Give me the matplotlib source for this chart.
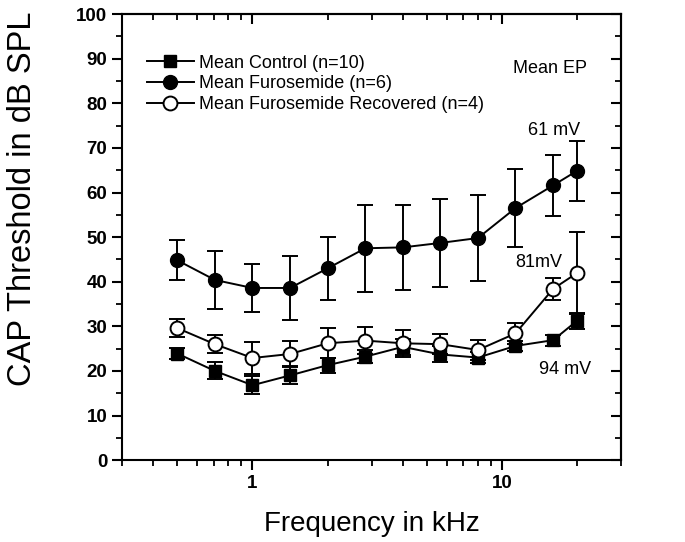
import matplotlib
matplotlib.use('Agg')
import matplotlib.pyplot as plt
from matplotlib.lines import Line2D
from matplotlib.ticker import FixedLocator, NullFormatter, MultipleLocator, LogLocator

plt.rcParams['font.family'] = ['Liberation Sans', 'DejaVu Sans']

# frecuencias en kHz
freq = [0.5, 0.707, 1.0, 1.414, 2.0, 2.83, 4.0, 5.66, 8.0, 11.3, 16.0, 20.0]

control = [23.9, 20.0, 16.8, 19.0, 21.3, 23.2, 25.4, 23.7, 23.0, 25.6, 26.9, 31.3]
control_err = [1.3, 1.9, 2.0, 2.0, 1.7, 1.5, 1.8, 1.8, 1.3, 1.2, 1.2, 1.8]

furo = [44.8, 40.4, 38.6, 38.6, 43.0, 47.5, 47.7, 48.7, 49.8, 56.5, 61.6, 64.9]
furo_err = [4.5, 6.6, 5.3, 7.2, 7.1, 9.8, 9.5, 9.8, 9.6, 8.8, 6.9, 6.7]

recov = [29.6, 26.0, 22.9, 23.8, 26.2, 26.8, 26.2, 26.0, 24.7, 28.4, 38.4, 42.0]
recov_err = [2.1, 2.0, 3.5, 3.0, 3.4, 3.0, 3.0, 2.3, 2.2, 2.3, 2.5, 9.2]

etiquetas = ['Mean Control (n=10)', 'Mean Furosemide (n=6)',
             'Mean Furosemide Recovered (n=4)']

fig = plt.figure(figsize=(6.85, 5.42), dpi=100)
ax = fig.add_axes([0.178, 0.151, 0.729, 0.823])

kw = dict(color='black', lw=1.4, elinewidth=1.4, capsize=5.5, capthick=1.4)
ax.errorbar(freq, control, yerr=control_err, fmt='-s', ms=9, mfc='black', **kw)
ax.errorbar(freq, furo, yerr=furo_err, fmt='-o', ms=10, mfc='black', **kw)
ax.errorbar(freq, recov, yerr=recov_err, fmt='-o', ms=10, mfc='white', mew=1.4, **kw)

ax.set_xscale('log')
ax.set_xlim(0.3, 30)
ax.set_ylim(0, 100)

ax.xaxis.set_major_locator(FixedLocator([1, 10]))
ax.xaxis.set_minor_locator(LogLocator(base=10, subs=range(2, 10)))
ax.xaxis.set_minor_formatter(NullFormatter())
ax.set_xticklabels(['1', '10'])
ax.yaxis.set_major_locator(MultipleLocator(10))
ax.yaxis.set_minor_locator(MultipleLocator(5))

for s in ax.spines.values():
    s.set_linewidth(1.5)
ax.tick_params(which='major', direction='out', length=7, width=1.5, labelsize=13.5)
ax.tick_params(which='minor', direction='out', length=4, width=1.3)
for lab in ax.get_xticklabels() + ax.get_yticklabels():
    lab.set_fontweight('bold')

# ticks hacia dentro arriba y a la derecha
top = ax.secondary_xaxis('top')
top.xaxis.set_major_locator(FixedLocator([1, 10]))
top.xaxis.set_minor_locator(LogLocator(base=10, subs=range(2, 10)))
top.tick_params(which='major', direction='in', length=7, width=1.5, labeltop=False)
top.tick_params(which='minor', direction='in', length=4, width=1.3)
top.spines['top'].set_linewidth(1.5)
right = ax.secondary_yaxis('right')
right.yaxis.set_major_locator(MultipleLocator(10))
right.yaxis.set_minor_locator(MultipleLocator(5))
right.tick_params(which='major', direction='in', length=7, width=1.5, labelright=False)
right.tick_params(which='minor', direction='in', length=4, width=1.3)
right.spines['right'].set_linewidth(1.5)

ax.set_xlabel('Frequency in kHz', fontsize=20)
ax.xaxis.set_label_coords(0.5, -0.115)
ax.set_ylabel('CAP Threshold in dB SPL', fontsize=23.5)
ax.yaxis.set_label_coords(-0.168, 0.585)

handles = [
    Line2D([], [], color='black', lw=1.4, marker='s', ms=9, mfc='black'),
    Line2D([], [], color='black', lw=1.4, marker='o', ms=10, mfc='black'),
    Line2D([], [], color='black', lw=1.4, marker='o', ms=10, mfc='white', mew=1.4),
]
ax.legend(handles, etiquetas, loc='upper left', bbox_to_anchor=(0.035, 0.925),
          frameon=False, fontsize=13, handlelength=2.6, handletextpad=0.3,
          labelspacing=0.2, borderaxespad=0)

ax.text(15.6, 87.9, 'Mean EP', fontsize=13, ha='center', va='center')
ax.text(16.1, 74.0, '61 mV', fontsize=13, ha='center', va='center')
ax.text(14.0, 44.4, '81mV', fontsize=13, ha='center', va='center')
ax.text(17.8, 20.4, '94 mV', fontsize=13, ha='center', va='center')

fig.savefig('out.png', dpi=100)
